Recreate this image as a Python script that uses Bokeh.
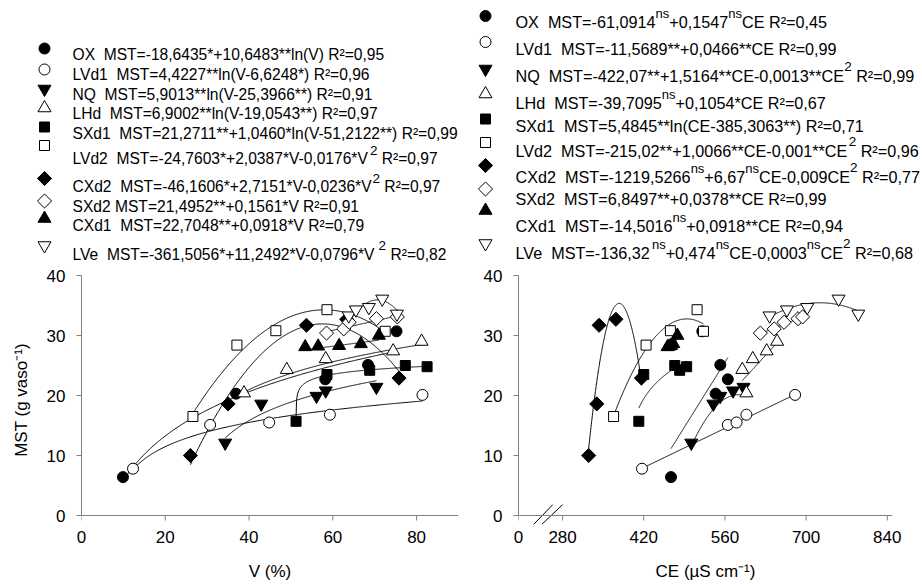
import re
import numpy as np
from bokeh.plotting import figure
from bokeh.layouts import column, row
from bokeh.models import FixedTicker, Range1d, Span
from bokeh.core.properties import value
from bokeh.embed import file_html
from bokeh.resources import INLINE

FONT = "Liberation Sans"
AXIS_GREY = "#808080"

SERIES = ["OX", "LVd1", "NQ", "LHd", "SXd1", "LVd2", "CXd2", "SXd2", "CXd1", "LVe"]

# Shoot dry mass, MST (g per pot)
MST_OX = [6.4, 20.3, 22.7, 25.1, 30.7]
MST_LVd1 = [7.8, 15.1, 15.5, 16.8, 20.1]
MST_NQ = [12.1, 18.6, 19.9, 20.8, 21.4]
MST_LHd = [20.4, 24.3, 26.1, 27.4, 29.0]
MST_SXd1 = [15.7, 23.5, 24.2, 25.0, 24.8]
MST_LVd2 = [16.5, 28.4, 30.8, 34.3, 30.7]
MST_CXd2 = [10.0, 18.6, 31.7, 32.7, 22.9]
MST_SXd2 = [30.4, 31.1, 32.2, 32.8, 33.1]
MST_CXd1 = [28.1, 28.2, 28.3, 28.6, 30.0]
MST_LVe = [33.3, 34.3, 34.7, 36.1, 33.6]

# Base saturation, V (%)
V_OX = [9.9, 36.9, 58.2, 68.4, 75.2]
V_LVd1 = [12.3, 30.7, 44.8, 59.3, 81.4]
V_NQ = [34.3, 42.9, 56.1, 58.3, 70.4]
V_LHd = [38.8, 49.0, 58.3, 74.4, 81.2]
V_SXd1 = [51.22, 58.6, 68.8, 77.3, 82.5]
V_LVd2 = [26.6, 37.1, 46.4, 58.6, 72.5]
V_CXd2 = [26.0, 35.0, 53.7, 63.3, 75.8]
V_SXd2 = [58.5, 62.6, 63.9, 70.4, 75.4]
V_CXd1 = [53.4, 56.5, 61.5, 66.7, 71.0]
V_LVe = [63.8, 65.5, 68.6, 71.8, 75.3]

# Electrical conductivity, CE (uS/cm)
CE_OX = [467, 544, 565, 552, 521]
CE_LVd1 = [417, 565, 580, 597, 681]
CE_NQ = [502, 540, 552, 574, 592]
CE_LHd = [597, 590, 608, 632, 650]
CE_SXd1 = [411.5, 420, 482, 473.5, 494]
CE_LVd2 = [368, 424, 466, 512, 523]
CE_CXd2 = [325, 339, 343, 372, 416]
CE_SXd2 = [621, 645, 662, 686, 694]
CE_CXd1 = [461, 464, 467, 471, 478]
CE_LVe = [637, 667, 702, 756, 790]

# Axis ticks
V_TICKS = [0, 20, 40, 60, 80]
CE_BREAK = 204          # CE axis is broken between 0 and 280; its "0" sits here
CE_TICKS = [CE_BREAK, 280, 420, 560, 700, 840]
MST_TICKS = [0, 10, 20, 30, 40]

MST = dict(OX=MST_OX, LVd1=MST_LVd1, NQ=MST_NQ, LHd=MST_LHd, SXd1=MST_SXd1,
           LVd2=MST_LVd2, CXd2=MST_CXd2, SXd2=MST_SXd2, CXd1=MST_CXd1, LVe=MST_LVe)
V = dict(OX=V_OX, LVd1=V_LVd1, NQ=V_NQ, LHd=V_LHd, SXd1=V_SXd1,
         LVd2=V_LVd2, CXd2=V_CXd2, SXd2=V_SXd2, CXd1=V_CXd1, LVe=V_LVe)
CE = dict(OX=CE_OX, LVd1=CE_LVd1, NQ=CE_NQ, LHd=CE_LHd, SXd1=CE_SXd1,
          LVd2=CE_LVd2, CXd2=CE_CXd2, SXd2=CE_SXd2, CXd1=CE_CXd1, LVe=CE_LVe)

# Regression equations (superscripts marked as ^{...})
LEGEND_V = [
    "OX  MST=-18,6435*+10,6483**ln(V) R²=0,95",
    "LVd1  MST=4,4227**ln(V-6,6248*) R²=0,96",
    "NQ  MST=5,9013**ln(V-25,3966**) R²=0,91",
    "LHd  MST=6,9002**ln(V-19,0543**) R²=0,97",
    "SXd1  MST=21,2711**+1,0460*ln(V-51,2122**) R²=0,99",
    "LVd2  MST=-24,7603*+2,0387*V-0,0176*V^{2} R²=0,97",
    "CXd2  MST=-46,1606*+2,7151*V-0,0236*V^{2} R²=0,97",
    "SXd2 MST=21,4952**+0,1561*V R²=0,91",
    "CXd1  MST=22,7048**+0,0918*V R²=0,79",
    "LVe  MST=-361,5056*+11,2492*V-0,0796*V^{2} R²=0,82",
]
LEGEND_CE = [
    "OX  MST=-61,0914^{ns}+0,1547^{ns}CE R²=0,45",
    "LVd1  MST=-11,5689**+0,0466**CE R²=0,99",
    "NQ  MST=-422,07**+1,5164**CE-0,0013**CE^{2} R²=0,99",
    "LHd  MST=-39,7095^{ns}+0,1054*CE R²=0,67",
    "SXd1  MST=5,4845**ln(CE-385,3063**) R²=0,71",
    "LVd2  MST=-215,02**+1,0066**CE-0,001**CE^{2} R²=0,96",
    "CXd2  MST=-1219,5266^{ns}+6,67^{ns}CE-0,009CE^{2} R²=0,77",
    "SXd2  MST=6,8497**+0,0378**CE R²=0,99",
    "CXd1  MST=-14,5016^{ns}+0,0918**CE R²=0,94",
    "LVe  MST=-136,32^{ns}+0,474^{ns}CE-0,0003^{ns}CE^{2} R²=0,68",
]

# Fitted models: ("ln", a, b, c) -> a + b*ln(x - c); ("poly", [c0, c1, c2]);
# ("refit",) -> quadratic least squares on the points (printed coefficients are rounded too far)
FIT_V = {
    "OX": ("ln", -18.6435, 10.6483, 0.0),
    "LVd1": ("ln", 0.0, 4.4227, 6.6248),
    "NQ": ("ln", 0.0, 5.9013, 25.3966),
    "LHd": ("ln", 0.0, 6.9002, 19.0543),
    "SXd1": ("ln", 21.2711, 1.0460, 51.2122),
    "LVd2": ("poly", [-24.7603, 2.0387, -0.0176]),
    "CXd2": ("poly", [-46.1606, 2.7151, -0.0236]),
    "SXd2": ("poly", [21.4952, 0.1561]),
    "CXd1": ("poly", [22.7048, 0.0918]),
    "LVe": ("poly", [-361.5056, 11.2492, -0.0796]),
}
FIT_CE = {
    "OX": ("poly", [-61.0914, 0.1547]),
    "LVd1": ("poly", [-11.5689, 0.0466]),
    "NQ": ("poly", [-422.07, 1.5164, -0.0013]),
    "LHd": ("poly", [-39.7095, 0.1054]),
    "SXd1": ("ln", 0.0, 5.4845, 385.3063),
    "LVd2": ("refit",),
    "CXd2": ("refit",),
    "SXd2": ("poly", [6.8497, 0.0378]),
    "CXd1": ("poly", [-14.5016, 0.0918]),
    "LVe": ("refit",),
}

# marker, fill, size, angle
STYLE = {
    "OX": ("circle", "black", 11, 0.0),
    "LVd1": ("circle", "white", 11, 0.0),
    "NQ": ("inverted_triangle", "black", 13, 0.0),
    "LHd": ("triangle", "white", 13, 0.0),
    "SXd1": ("square", "black", 10, 0.0),
    "LVd2": ("square", "white", 10, 0.0),
    "CXd2": ("square", "black", 10, np.pi / 4),
    "SXd2": ("square", "white", 10, np.pi / 4),
    "CXd1": ("triangle", "black", 13, 0.0),
    "LVe": ("inverted_triangle", "white", 13, 0.0),
}

# Arial / Liberation Sans advance widths (1/1000 em)
ADV = {" ": 278, "\u00a0": 278, ",": 278, ".": 278, "*": 389, "+": 584, "-": 333,
       "=": 584, "(": 333, ")": 333, "²": 333}
ADV.update({d: 556 for d in "0123456789"})
ADV.update(dict(zip("ABCDEFGHIJKLMNOPQRSTUVWXYZ",
                    [667, 667, 722, 722, 667, 611, 778, 722, 278, 500, 667, 556, 833,
                     722, 778, 667, 778, 722, 667, 611, 722, 667, 944, 667, 667, 611])))
ADV.update(dict(zip("abcdefghijklmnopqrstuvwxyz",
                    [556, 556, 500, 556, 556, 278, 556, 556, 222, 222, 500, 222, 833,
                     556, 556, 556, 556, 333, 500, 278, 556, 500, 722, 500, 500, 500])))


def text_width(s, size):
    return sum(ADV.get(ch, 556) for ch in s) * size / 1000.0


LEG_H = 262
CHART_H = 584 - LEG_H

# legend layout: marker x, text x, row centres, marker centres, font sizes, superscript rise
LEFT_LEG = dict(mx=44, tx=72,
                ty=[48.5, 68, 88, 107, 127, 152.5, 180.5, 200.5, 219, 248],
                my=[48, 69, 88.5, 107.5, 126.5, 145, 178, 200.5, 218, 245],
                size=15.6, ns=12.5, two=13.5, rise_ns=8.5, rise_two=8.5)
RIGHT_LEG = dict(mx=485, tx=515,
                 ty=[16, 42.5, 70, 96.5, 120, 145, 171, 193, 220, 247],
                 my=[15.5, 41.5, 68.5, 93.5, 118.5, 142, 165, 188.5, 210, 243],
                 size=16.2, ns=13.0, two=13.5, rise_ns=8.5, rise_two=10.0)


def draw_legend(p, lines, lay):
    main = lay["size"]
    for i, name in enumerate(SERIES):
        marker, fill, size, angle = STYLE[name]
        p.scatter([lay["mx"]], [lay["my"][i]], marker=marker, size=size, angle=angle,
                  fill_color=fill, line_color="black", line_width=1)
        x = lay["tx"]
        base = lay["ty"][i] + 0.716 * main / 2
        for k, part in enumerate(re.split(r"\^\{(.*?)\}", lines[i])):
            if not part:
                continue
            part = part.replace(" ", "\u00a0")
            sup = k % 2 == 1
            if not sup:
                fs, y = main, base
            elif part == "2":
                fs, y = lay["two"], base - lay["rise_two"]
            else:
                fs, y = lay["ns"], base - lay["rise_ns"]
            p.text([x], [y], text=[part], text_font=value(FONT),
                   text_font_size=value(f"{fs}px"), text_color="black",
                   text_baseline="alphabetic", text_align="left")
            x += text_width(part, fs)


legend = figure(width=922, height=LEG_H, x_range=Range1d(0, 922), y_range=Range1d(LEG_H, 0),
                x_axis_type=None, y_axis_type=None, toolbar_location=None, output_backend="svg",
                min_border_left=0, min_border_right=0, min_border_top=0, min_border_bottom=0)
legend.grid.visible = False
legend.outline_line_color = None
draw_legend(legend, LEGEND_V, LEFT_LEG)
draw_legend(legend, LEGEND_CE, RIGHT_LEG)


def curve(model, xs, ys):
    t = np.linspace(min(xs), max(xs), 300)
    if model[0] == "ln":
        a, b, c = model[1:]
        return t, a + b * np.log(t - c)
    if model[0] == "poly":
        return t, np.polyval(model[1][::-1], t)
    coef = np.polyfit(xs, ys, 2)
    return t, np.polyval(coef, t)


PX_PER_MST = 6.0          # 240 px for 0..40
Y_MIN = -1.5              # strip under MST=0 kept inside the frame (room for the "//" marks)
TICK_LEN = 5 / PX_PER_MST
FRAME_TOP = 13
FRAME_H = int(round(PX_PER_MST * (40 - Y_MIN)))


def make_chart(xdata, fits, width, xr, xticks, bl, br, xlabel, ylabel, overrides=None):
    p = figure(width=width, height=CHART_H, x_range=xr, y_range=Range1d(Y_MIN, 40),
               toolbar_location=None, output_backend="svg",
               min_border_left=bl, min_border_right=br, min_border_top=FRAME_TOP,
               min_border_bottom=CHART_H - FRAME_TOP - FRAME_H)
    p.grid.visible = False
    p.outline_line_color = None
    p.xaxis.ticker = FixedTicker(ticks=xticks)
    p.yaxis.ticker = FixedTicker(ticks=MST_TICKS)
    p.yaxis.bounds = (0, 40)
    if overrides:
        p.xaxis.major_label_overrides = overrides
    for ax in (p.xaxis[0], p.yaxis[0]):
        ax.axis_line_color = AXIS_GREY
        ax.major_tick_line_color = AXIS_GREY
        ax.minor_tick_line_color = None
        ax.major_tick_in = 0
        ax.major_tick_out = 5
        ax.major_label_text_font = FONT
        ax.major_label_text_font_size = "17px"
        ax.major_label_text_color = "black"
        ax.major_label_standoff = 11
        ax.axis_label_text_font = FONT
        ax.axis_label_text_font_size = "17px"
        ax.axis_label_text_font_style = "normal"
        ax.axis_label_text_color = "black"
    # the horizontal axis line and its ticks sit at MST=0, above the frame edge
    xa = p.xaxis[0]
    xa.axis_line_color = None
    xa.major_tick_line_color = None
    xa.major_tick_out = 0
    xa.major_label_standoff = 6
    xa.axis_label = xlabel
    xa.axis_label_standoff = 16
    p.add_layout(Span(location=0, dimension="width", line_color=AXIS_GREY, line_width=1))
    p.segment(x0=xticks, y0=[0] * len(xticks), x1=xticks, y1=[-TICK_LEN] * len(xticks),
              line_color=AXIS_GREY, line_width=1)
    if ylabel:
        p.yaxis.axis_label = ylabel
        p.yaxis.axis_label_standoff = 13
    for name in SERIES:
        xs, ys = xdata[name], MST[name]
        cx, cy = curve(fits[name], xs, ys)
        p.line(cx, cy, line_color="black", line_width=1)
    for name in SERIES:
        marker, fill, size, angle = STYLE[name]
        p.scatter(xdata[name], MST[name], marker=marker, size=size, angle=angle,
                  fill_color=fill, line_color="black", line_width=1)
    return p


left = make_chart(V, FIT_V, 470, Range1d(0, 90), V_TICKS, 81, 12,
                  "V (%)", "MST (g vaso\u207b\u00b9)")
right = make_chart(CE, FIT_CE, 452, Range1d(CE_BREAK, 849), CE_TICKS, 48, 30,
                   "CE (µS cm\u207b\u00b9)", None, overrides={CE_BREAK: "0"})

# axis break marks between 0 and 280
BREAK_X0 = [230, 244]
BREAK_X1 = [263, 280]
right.segment(x0=BREAK_X0, y0=[Y_MIN] * 2, x1=BREAK_X1, y1=[1.8] * 2,
              line_color="black", line_width=1)

layout = column(legend, row(left, right, spacing=0), spacing=0)
open("out.html", "w").write(file_html(layout, INLINE))
